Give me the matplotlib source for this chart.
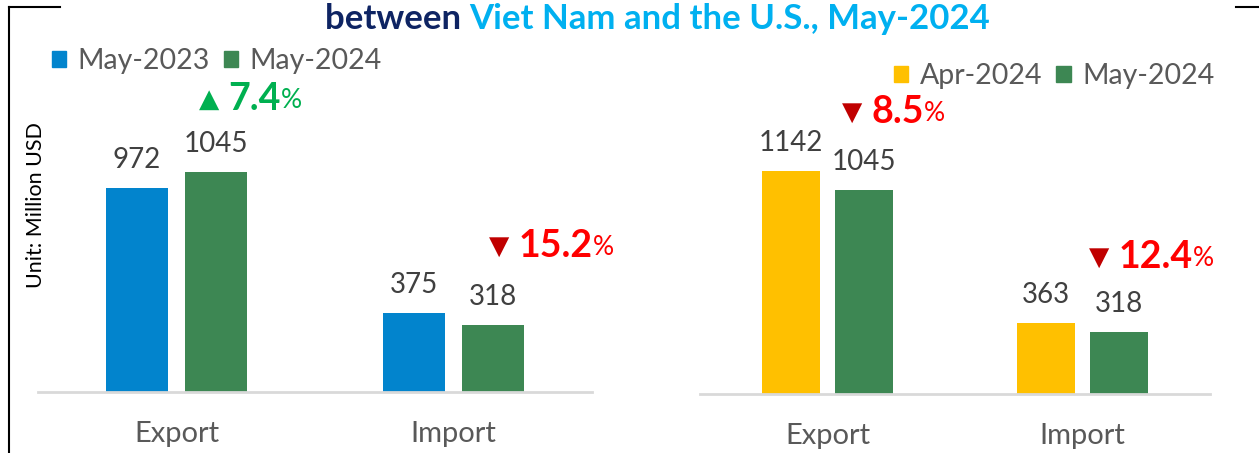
import matplotlib
matplotlib.use('Agg')
import matplotlib.pyplot as plt
from matplotlib.patches import Patch
from matplotlib.lines import Line2D

# Data
categories = ['Export', 'Import']
left_series = ['May-2023', 'May-2024']
left_values = [[972, 375], [1045, 318]]
right_series = ['Apr-2024', 'May-2024']
right_values = [[1142, 363], [1045, 318]]
left_changes = [('▲', '7.4'), ('▼', '15.2')]
right_changes = [('▼', '8.5'), ('▼', '12.4')]

BLUE = '#0284CD'
GREEN = '#3D8753'
YELLOW = '#FFC000'
UP = '#00B050'
DOWN_TRI = '#C00000'
DOWN_NUM = '#FF0000'
FONT = ['Lato', 'DejaVu Sans']

W, H = 1259, 453
fig = plt.figure(figsize=(W / 100, H / 100), dpi=100)


def px(x0, y0, x1, y1):
    # pixel box (top-left origin) -> figure fraction rect
    return [x0 / W, 1 - y1 / H, (x1 - x0) / W, (y1 - y0) / H]


def draw_panel(ax, series, values, colors, ymax):
    xs = range(len(categories))
    width, off = 0.224, 0.143
    for i, (name, vals, col) in enumerate(zip(series, values, colors)):
        shift = -off if i == 0 else off
        pos = [x + shift for x in xs]
        ax.bar(pos, vals, width=width, color=col, label=name, zorder=2)
        for p, v in zip(pos, vals):
            ax.annotate(str(v), (p, v), xytext=(0, 11), textcoords='offset points',
                        ha='center', va='bottom', fontsize=20, color='#404040',
                        family=FONT)
    ax.set_xlim(-0.5, len(categories) - 0.5)
    ax.set_ylim(0, ymax)
    ax.set_xticks(list(xs))
    ax.set_xticklabels(categories, fontsize=21, color='#595959', family=FONT)
    ax.tick_params(axis='x', length=0, pad=21)
    ax.set_yticks([])
    for s in ['top', 'right', 'left']:
        ax.spines[s].set_visible(False)
    ax.spines['bottom'].set_color('#D9D9D9')
    ax.spines['bottom'].set_linewidth(2)
    ax.patch.set_alpha(0)


def change_label(ax, x, y, tri, num):
    up = tri == '▲'
    t1 = ax.annotate(tri, (x, y), ha='left', va='center', fontsize=19,
                     color=UP if up else DOWN_TRI, family=['DejaVu Sans'],
                     annotation_clip=False)
    t2 = ax.annotate(num, xy=(1, 0), xycoords=t1, xytext=(7, -2),
                     textcoords='offset points', ha='left', va='bottom',
                     fontsize=27, fontweight='bold', color=UP if up else DOWN_NUM,
                     family=FONT)
    ax.annotate('%', xy=(1, 0), xycoords=t2, xytext=(0, 2), textcoords='offset points',
                ha='left', va='bottom', fontsize=19, color=UP if up else DOWN_NUM,
                family=FONT)


ax1 = fig.add_axes(px(38, 100, 592, 392))
draw_panel(ax1, left_series, left_values, [BLUE, GREEN], 1390)
change_label(ax1, 0.08, 1390, *left_changes[0])
change_label(ax1, 1.127, 690, *left_changes[1])

ax2 = fig.add_axes(px(700, 100, 1210, 394))
draw_panel(ax2, right_series, right_values, [YELLOW, GREEN], 1508)
change_label(ax2, 0.056, 1441, *right_changes[0])
change_label(ax2, 1.024, 697, *right_changes[1])

leg_kw = dict(ncol=2, frameon=False, fontsize=20.5, handlelength=0.5,
              handleheight=0.5, handletextpad=0.4, columnspacing=0.5,
              labelcolor='#595959', borderaxespad=0, borderpad=0)
l1 = fig.legend(handles=[Patch(color=BLUE), Patch(color=GREEN)], labels=left_series,
                loc='center left', bbox_to_anchor=(52 / W, 1 - 61 / H), **leg_kw)
l2 = fig.legend(handles=[Patch(color=YELLOW), Patch(color=GREEN)], labels=right_series,
                loc='center left', bbox_to_anchor=(894 / W, 1 - 76 / H), **leg_kw)
for lg in (l1, l2):
    for t in lg.get_texts():
        t.set_family(FONT)

fig.text(36 / W, 1 - 205 / H, 'Unit: Million USD', rotation=90, ha='center',
         va='center', fontsize=15.5, color='black', family=FONT)

# title in two colours
t_a = fig.text(325 / W, 1 - 19 / H, 'between ', ha='left', va='center', fontsize=25,
               fontweight='bold', color='#0E2463', family=FONT)
fig.canvas.draw()
bb = t_a.get_window_extent()
fig.text(bb.x1 / W, 1 - 19 / H, 'Viet Nam and the U.S., May-2024', ha='left',
         va='center', fontsize=25, fontweight='bold', color='#00B0F0', family=FONT)

# frame pieces around the chart
frame = dict(color='black', linewidth=1.5, transform=fig.transFigure)
fig.add_artist(Line2D([9 / W, 9 / W], [0, 1 - 7 / H], **frame))
fig.add_artist(Line2D([9 / W, 60 / W], [1 - 7 / H, 1 - 7 / H], **frame))
fig.add_artist(Line2D([1236 / W, 1], [1 - 7 / H, 1 - 7 / H], **frame))

fig.savefig('out.png', dpi=100)
